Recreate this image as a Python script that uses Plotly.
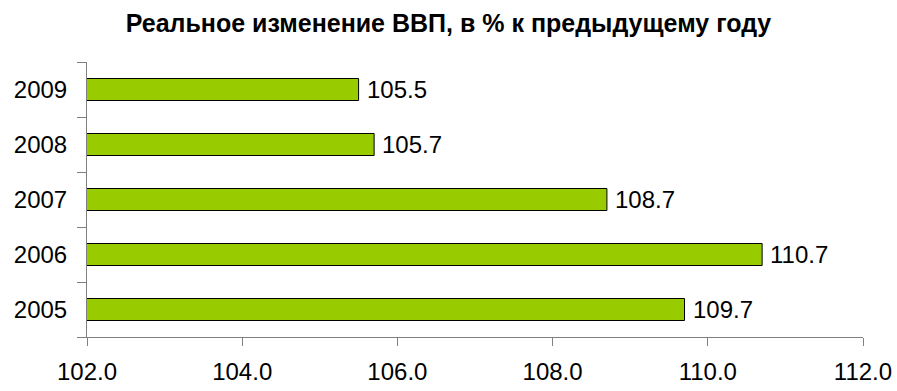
import plotly.graph_objects as go

# Real GDP change, % vs previous year
years = ["2005", "2006", "2007", "2008", "2009"]
gdp_change = [109.7, 110.7, 108.7, 105.7, 105.5]
x_ticks = [102.0, 104.0, 106.0, 108.0, 110.0, 112.0]

title_text = "Реальное изменение ВВП, в % к предыдущему году"

font_family = "Liberation Sans, Arial, sans-serif"
axis_color = "#808080"
label_size = 24

fig = go.Figure(
    go.Bar(
        y=years,
        x=gdp_change,
        orientation="h",
        marker=dict(color="#99CC00", line=dict(color="#000000", width=1)),
        hoverinfo="x+y",
    )
)

# value labels just right of each bar end (y given as category index)
for idx, v in enumerate(gdp_change):
    fig.add_annotation(
        x=v,
        y=idx,
        xref="x",
        yref="y",
        text=f"{v:.1f}",
        showarrow=False,
        xanchor="left",
        yanchor="middle",
        xshift=6,
        font=dict(family=font_family, size=label_size, color="#000000"),
    )

fig.update_layout(
    width=897,
    height=391,
    margin=dict(l=87, r=34, t=62, b=54, autoexpand=False),
    paper_bgcolor="#ffffff",
    plot_bgcolor="#ffffff",
    showlegend=False,
    bargap=0.6,
    title=dict(
        text="<b>" + title_text + "</b>",
        x=0.5,
        xanchor="center",
        y=1 - 23 / 391,
        yanchor="middle",
        font=dict(family=font_family, size=25, color="#000000"),
    ),
)

fig.update_xaxes(
    range=[102, 112],
    tickvals=x_ticks,
    ticktext=[f"{v:.1f}" for v in x_ticks],
    showgrid=False,
    zeroline=False,
    showline=True,
    linecolor=axis_color,
    linewidth=1,
    ticks="outside",
    ticklen=8,
    tickcolor=axis_color,
    ticklabelstandoff=5,
    automargin=False,
    tickfont=dict(family=font_family, size=label_size, color="#000000"),
)

fig.update_yaxes(
    type="category",
    categoryorder="array",
    categoryarray=years,
    range=[-0.5, 4.5],
    showgrid=False,
    zeroline=False,
    showline=True,
    linecolor=axis_color,
    linewidth=1,
    ticks="outside",
    tickson="boundaries",
    ticklen=9,
    tickcolor=axis_color,
    ticklabelstandoff=14,
    automargin=False,
    tickfont=dict(family=font_family, size=label_size, color="#000000"),
)

fig.write_html("out.html")
